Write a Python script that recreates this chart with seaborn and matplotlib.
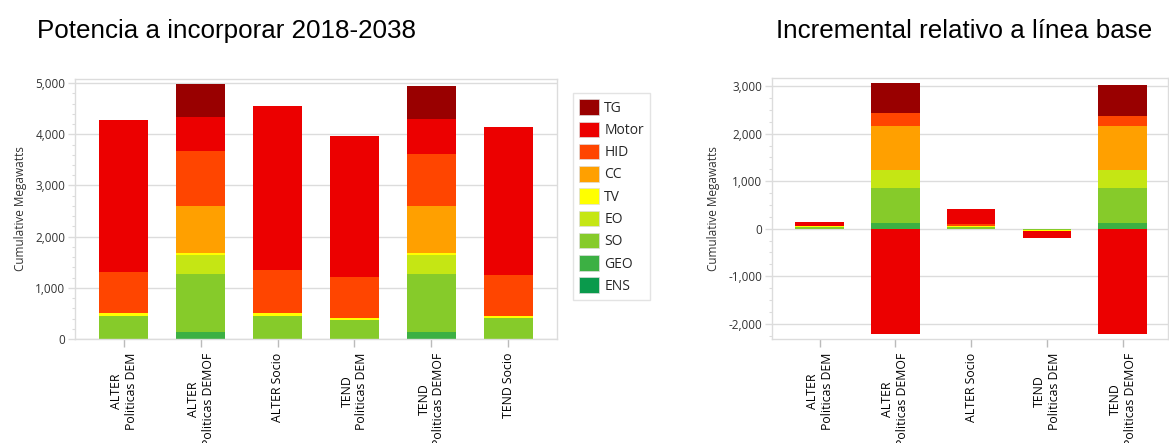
import matplotlib
matplotlib.use("Agg")
import matplotlib.pyplot as plt
import numpy as np
import seaborn as sns
from matplotlib.patches import Patch
from matplotlib.ticker import FuncFormatter, MultipleLocator

# stack order, bottom to top
SERIES = ["ENS", "GEO", "SO", "EO", "TV", "CC", "HID", "Motor", "TG"]
COLORS = {
    "TG": "#990000",
    "Motor": "#ec0000",
    "HID": "#ff4500",
    "CC": "#ffa000",
    "TV": "#ffff00",
    "EO": "#c5e614",
    "SO": "#86cb2a",
    "GEO": "#3cb043",
    "ENS": "#0a9a4c",
}

left_cats = ["ALTER\nPoliticas DEM", "ALTER\nPoliticas DEMOF", "ALTER Socio",
             "TEND\nPoliticas DEM", "TEND\nPoliticas DEMOF", "TEND Socio"]
left_ens = [0, 0, 0, 0, 0, 0]
left_geo = [0, 130, 0, 0, 130, 0]
left_so = [450, 1148, 450, 372, 1148, 405]
left_eo = [0, 366, 0, 0, 366, 0]
left_tv = [50, 45, 50, 40, 45, 45]
left_cc = [0, 914, 0, 0, 914, 0]
left_hid = [817, 1076, 856, 790, 1017, 802]
left_motor = [2955, 665, 3204, 2767, 680, 2883]
left_tg = [0, 646, 0, 0, 645, 0]

right_cats = ["ALTER\nPoliticas DEM", "ALTER\nPoliticas DEMOF", "ALTER Socio",
              "TEND\nPoliticas DEM", "TEND\nPoliticas DEMOF"]
right_ens = [0, 0, 0, 0, 0]
right_geo = [0, 127, 0, 0, 127]
right_so = [45, 738, 45, -33, 738]
right_eo = [0, 365, 0, 0, 365]
right_tv = [5, 0, 5, -5, 0]
right_cc = [0, 922, 0, 0, 922]
right_hid = [15, 274, 54, -12, 218]
right_motor = [72, -2210, 321, -140, -2210]
right_tg = [0, 637, 0, 0, 647]

left_data = dict(zip(SERIES, [left_ens, left_geo, left_so, left_eo, left_tv,
                              left_cc, left_hid, left_motor, left_tg]))
right_data = dict(zip(SERIES, [right_ens, right_geo, right_so, right_eo, right_tv,
                               right_cc, right_hid, right_motor, right_tg]))

sns.set_theme(style="white")
plt.rcParams["font.family"] = ["Open Sans", "DejaVu Sans"]

TICK_COLOR = "#333333"
LINE_COLOR = "#dcdcdc"

fig = plt.figure(figsize=(11.69, 4.43), dpi=100)
W, H = 1169, 443


def axes_px(x0, x1, y_top, y_bot):
    return fig.add_axes([x0 / W, (H - y_bot) / H, (x1 - x0) / W, (y_bot - y_top) / H])


def stacked(ax, cats, data):
    pos = np.zeros(len(cats))
    neg = np.zeros(len(cats))
    for name in SERIES:
        vals = np.array(data[name], dtype=float)
        bottom = np.where(vals >= 0, pos, neg)
        sns.barplot(x=cats, y=vals, bottom=bottom, color=COLORS[name],
                    saturation=1, width=0.64, errorbar=None, linewidth=0,
                    order=cats, ax=ax)
        pos = pos + np.clip(vals, 0, None)
        neg = neg + np.clip(vals, None, 0)


def style(ax, ylim, minor):
    ax.set_ylim(*ylim)
    ax.yaxis.set_major_locator(MultipleLocator(1000))
    ax.yaxis.set_minor_locator(MultipleLocator(minor))
    ax.yaxis.set_major_formatter(FuncFormatter(lambda v, p: f"{v:,.0f}"))
    ax.grid(axis="y", color=LINE_COLOR, linewidth=1)
    ax.set_axisbelow(True)
    for s in ax.spines.values():
        s.set_color(LINE_COLOR)
        s.set_linewidth(1)
    ax.tick_params(axis="y", which="major", left=True, length=5, width=1,
                   color=LINE_COLOR, labelsize=8.5, labelcolor=TICK_COLOR, pad=2)
    ax.tick_params(axis="y", which="minor", left=True, length=2.5, width=0.8,
                   color=LINE_COLOR)
    ax.tick_params(axis="x", bottom=True, length=6, width=1, color="#bbbbbb",
                   labelsize=8.8, labelcolor="black", pad=4)
    for lab in ax.get_xticklabels():
        lab.set_rotation(90)
        lab.set_ha("center")
        lab.set_va("top")
        lab.set_multialignment("center")
    ax.set_xlabel("")
    ax.set_ylabel("Cumulative Megawatts", fontsize=8.5, color=TICK_COLOR, labelpad=6)


ax1 = axes_px(75, 557, 79, 339)
stacked(ax1, left_cats, left_data)
style(ax1, (0, 5080), 200)
ax1.set_xlim(-0.63, len(left_cats) - 1 + 0.63)

ax2 = axes_px(772, 1168, 78, 339)
stacked(ax2, right_cats, right_data)
style(ax2, (-2320, 3170), 250)
ax2.set_xlim(-0.63, len(right_cats) - 1 + 0.60)

fig.text(37 / W, 1 - 31 / H, "Potencia a incorporar 2018-2038", fontsize=18.7,
         family="Liberation Sans", ha="left", va="center", color="black")
fig.text(776 / W, 1 - 31 / H, "Incremental relativo a línea base", fontsize=18.7,
         family="Liberation Sans", ha="left", va="center", color="black")

handles = [Patch(facecolor=COLORS[n], edgecolor="#dddddd", linewidth=0.5)
           for n in SERIES[::-1]]
leg = fig.legend(handles, SERIES[::-1], loc="upper left",
                 bbox_to_anchor=(573 / W, 1 - 93 / H), frameon=True, fancybox=False,
                 fontsize=10, handlelength=1.4, handleheight=1.35, handletextpad=0.4,
                 labelspacing=0.42, borderpad=0.45, borderaxespad=0)
leg.get_frame().set_edgecolor(LINE_COLOR)
leg.get_frame().set_linewidth(1)

fig.savefig("out.png", dpi=100)
